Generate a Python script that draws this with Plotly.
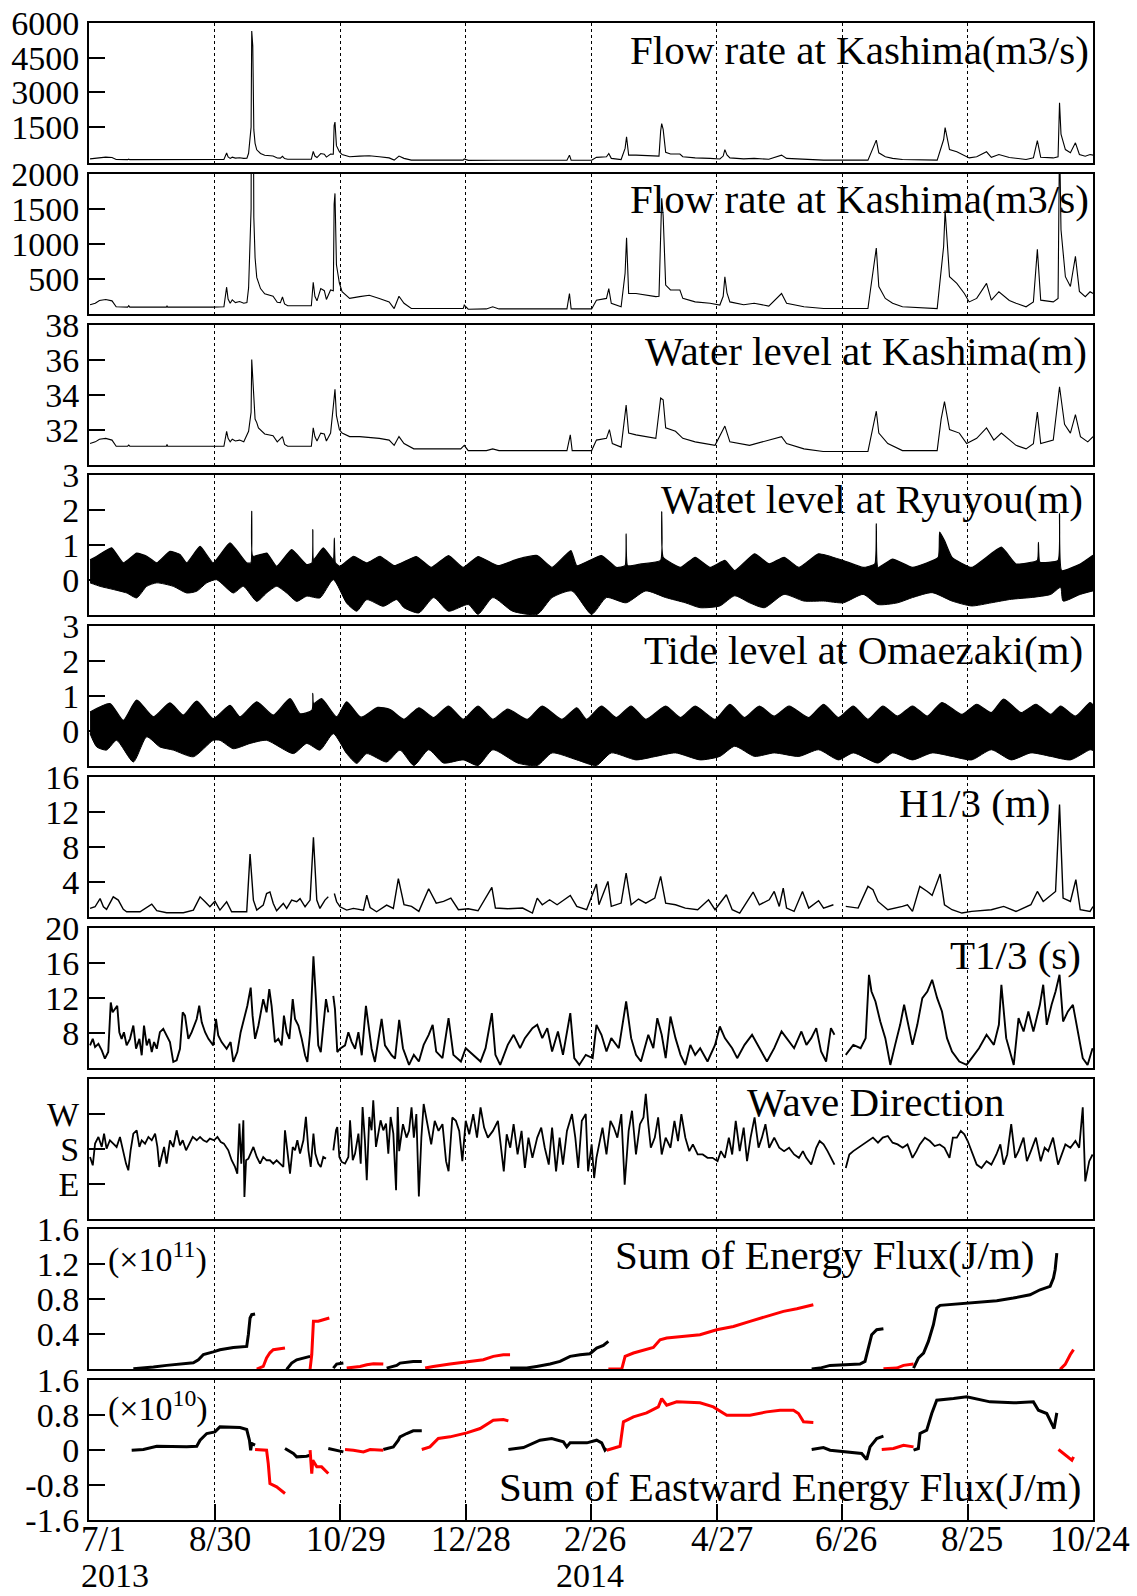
import plotly.graph_objects as go
import pandas as pd

START = pd.Timestamp("2013-07-01")
END = pd.Timestamp("2014-10-24")

# ---- x ticks (days after 2013-07-01) ----
TICK_DAYS = [0, 60, 120, 180, 240, 300, 360, 420, 480]
TICK_TEXT = ["7/1", "8/30", "10/29", "12/28", "2/26", "4/27", "6/26", "8/25", "10/24"]
YEAR_LABELS = [(0, "2013"), (240, "2014")]

# ---- data: (day after 2013-07-01, value) ----
FLOW = [(0.5,130),(3,150),(5,190),(8,205),(11,185),(13,100),(18.5,95),(19,115),(19.5,95),(37,95),
(37.3,115),(37.6,95),(59,95),(64.5,100),(65.8,380),(66.5,210),(67.5,150),(68.5,200),(70,160),(72,175),
(74,150),(75.5,160),(76.3,370),(77.5,1500),(77.8,5650),(78.3,5000),(78.8,1380),(79.4,800),(80.2,520),(82,360),
(84,285),(86,265),(88,250),(90,165),(91.5,160),(92.5,240),(93.5,140),(95,115),(106.3,115),(107.2,450),
(108,250),(109,185),(110.8,360),(112.5,330),(113.5,205),(115.5,340),(116.8,330),(117.2,1570),(117.6,1720),(118.3,700),
(119.7,440),(121,315),(124.6,220),(129.4,245),(134,265),(138.8,220),(143.5,170),(145.9,75),(148.2,250),(150.6,150),
(154.1,75),(178.9,75),(179.4,125),(181.3,65),(190,70),(193,100),(196,70),(228.5,70),(229.7,290),(230.5,70),
(240.3,70),(242.6,195),(247.4,220),(248.5,360),(249.7,150),(254.4,100),(256.3,580),(257,1085),(258,290),(261.5,290),
(266.2,265),(271,245),(272.5,250),(273.3,1325),(273.8,1650),(274.5,1400),(275.7,410),(278,340),(282.5,340),(283.9,220),
(289.8,170),(296.9,150),(301.6,125),(303.2,250),(304,530),(305,300),(306.4,170),(313,130),(318,150),(325,110),
(331.1,290),(333.5,150),(341.8,100),(351.2,75),(372.4,75),(373.6,340),(376.4,940),(377.6,390),(380.7,220),(384.2,150),
(388.9,100),(405.5,75),(406.9,530),(408.6,965),(409.3,1480),(410.2,1100),(411.4,530),(414.9,435),(418.5,290),(420.8,170),
(424.4,220),(429.1,435),(431.4,195),(435,315),(440,190),(443.2,150),(448,100),(451.5,170),(453.4,920),(455,195),
(461,170),(463.3,220),(464,2550),(464.7,1200),(466.8,530),(469.2,390),(471.6,820),(473.5,320),(476.3,245),(478.6,315),
(480,290)]

WATER_LEVEL = [(0.5,31.2),(3,31.3),(5,31.45),(8,31.5),(11,31.4),(13,31.05),(18.5,31.05),(19,31.12),(19.5,31.05),
(37,31.05),(37.3,31.15),(37.6,31.05),(64.5,31.05),(65.8,31.9),(66.5,31.5),(67.5,31.3),(68.5,31.45),(70,31.35),
(72,31.4),(74,31.3),(76.3,31.9),(77.5,33.0),(77.8,36.0),(78.3,35.0),(78.8,33.4),(79.4,32.6),(80.2,32.4),(81,32.1),
(84,31.75),(86,31.7),(88,31.65),(90,31.3),(92.5,31.6),(93.5,31.15),(95,31.05),(106.3,31.05),(107.2,32.1),(108,31.6),
(109,31.35),(110.8,31.8),(112.5,31.75),(113.5,31.35),(115.5,31.8),(117.2,33.8),(117.6,34.3),(118.3,32.8),(119.7,32.0),
(121,31.8),(124.6,31.6),(129.4,31.6),(134,31.55),(138.8,31.5),(143.5,31.4),(145.9,31.1),(148.2,31.6),(150.6,31.2),
(155.3,30.9),(177.7,30.9),(179.4,31.1),(181.3,30.8),(190,30.8),(193,30.9),(196,30.8),(228.5,30.8),(230.1,31.7),
(231,30.8),(240.3,30.8),(242.6,31.4),(247.4,31.5),(248.8,32.0),(250.2,31.2),(254.4,31.0),(256.8,33.4),(258,31.8),
(261.5,31.7),(266.2,31.6),(271,31.5),(273.3,33.8),(274.5,33.7),(275.7,32.1),(280.4,31.9),(283.9,31.5),(289.8,31.3),
(299.3,31.1),(304,32.2),(306.4,31.3),(315.8,31.1),(331.1,31.6),(333.5,31.2),(341.8,30.9),(351,30.75),(372.4,30.75),
(373.6,31.5),(376.4,33.05),(377.6,31.8),(381.9,31.2),(388.9,30.8),(405.5,30.8),(407.4,32.6),(409,33.6),(411.4,32.0),
(416.1,31.8),(419.6,31.2),(424.4,31.5),(429.1,32.1),(432.6,31.4),(436.2,31.8),(443.2,31.1),(448,30.9),(451.5,31.2),
(453.4,33.0),(455,31.2),(461,31.4),(464,34.45),(466.4,32.3),(469.2,31.8),(471.6,32.85),(474,31.6),(477.5,31.3),(480,31.6)]

RYUYOU_UPPER = [(0.5,0.59),(3.7,0.69),(10.8,0.93),(16.4,0.50),(22.8,0.78),(27.6,0.69),(32.4,0.50),(38.7,0.83),
(43.5,0.74),(46.7,0.50),(53.1,0.97),(59.4,0.50),(67.4,1.07),(75.4,0.50),(77.4,0.50),(77.8,1.97),(78.3,0.69),(85,0.78),
(89.7,0.40),(96.9,0.88),(104.1,0.45),(106.6,0.50),(107,1.45),(107.4,0.59),(112,0.93),(116.8,0.59),(117.3,1.21),
(117.8,0.50),(120,0.40),(126.4,0.69),(132.8,0.50),(139.1,0.69),(145.9,0.42),(156.5,0.68),(163.6,0.37),(171.9,0.71),
(178.9,0.37),(186,0.68),(195.5,0.42),(204.9,0.61),(214.3,0.71),(221.4,0.37),(230.4,0.85),(233.2,0.42),(245,0.71),
(252.1,0.37),(256.3,0.42),(256.8,1.33),(257.5,0.42),(263.9,0.47),(273.3,0.57),(273.8,1.96),(274.5,0.66),(282.8,0.37),
(289.8,0.66),(296.9,0.37),(304,0.57),(308.7,0.28),(318.2,0.76),(325.2,0.47),(332.3,0.66),(339.4,0.37),(348.8,0.76),
(360.6,0.57),(370.1,0.37),(375.7,0.47),(376.4,1.62),(377.2,0.37),(384.2,0.61),(393.7,0.37),(406,0.66),(406.7,1.38),
(409,1.14),(412.6,0.66),(422,0.37),(436.2,0.95),(443.2,0.47),(453.4,0.57),(453.9,1.09),(454.6,0.52),(463.3,0.57),
(464,1.91),(465,0.28),(473.9,0.47),(480,0.72)]

RYUYOU_LOWER = [(0.5,-0.07),(5.3,-0.17),(11.6,-0.26),(18,-0.36),(22.8,-0.50),(27.6,-0.17),(32.4,-0.07),(40.3,-0.17),
(46.7,-0.36),(51.5,-0.31),(56.3,-0.07),(61,0.02),(69,-0.36),(73.8,-0.17),(80.2,-0.60),(84.9,-0.36),(89.7,-0.17),
(94.5,-0.36),(99.3,-0.60),(104.1,-0.45),(110.4,-0.50),(116.8,0.02),(123.2,-0.65),(128,-0.88),(132.8,-0.55),(140.7,-0.74),
(147.1,-0.55),(150.6,-0.78),(157.7,-0.93),(164.8,-0.49),(171.9,-0.88),(181.3,-0.69),(186,-0.97),(193.1,-0.49),
(202.5,-0.88),(214.3,-0.97),(221.4,-0.49),(230.9,-0.30),(240.3,-0.97),(247.4,-0.49),(256.8,-0.64),(266.2,-0.30),
(275.7,-0.49),(285.1,-0.64),(292.2,-0.78),(301.6,-0.73),(308.7,-0.44),(315.8,-0.64),(322.9,-0.78),(332.3,-0.40),
(341.8,-0.59),(351.2,-0.59),(360.6,-0.64),(370.1,-0.40),(377.2,-0.69),(386.6,-0.64),(393.7,-0.49),(403.1,-0.35),
(412.6,-0.59),(422,-0.73),(431.4,-0.64),(440.9,-0.54),(450.3,-0.49),(459.8,-0.40),(464.5,-0.20),(465.7,-0.59),
(473.9,-0.40),(480,-0.30)]

TIDE_UPPER = [(0.5,0.55),(10,0.79),(16.4,0.31),(22.8,0.89),(30.8,0.41),(38.7,0.81),(45.1,0.46),(51.5,0.86),(59.4,0.36),
(67.4,0.74),(72.2,0.41),(80.2,0.84),(88.1,0.46),(96.1,0.93),(100.9,0.50),(106.6,0.60),(107,1.08),(107.4,0.79),
(111.2,0.93),(118.4,0.41),(123.2,0.84),(130,0.40),(138,0.68),(144,0.62),(150.6,0.34),(157.7,0.67),(164.8,0.39),
(171.9,0.72),(178.9,0.34),(186,0.72),(193.1,0.34),(200.2,0.63),(209.6,0.34),(216.7,0.72),(226.1,0.34),(233.2,0.67),
(237.9,0.34),(245,0.72),(252.1,0.39),(259.2,0.72),(266.2,0.34),(275.7,0.72),(282.8,0.39),(289.8,0.72),(299.3,0.34),
(306.4,0.77),(313.4,0.39),(320.5,0.72),(327.6,0.43),(334.7,0.72),(344.1,0.39),(351.2,0.77),(358.3,0.39),(365.4,0.72),
(372.4,0.34),(379.5,0.72),(386.6,0.43),(393.7,0.72),(400.8,0.43),(407.8,0.82),(417.3,0.48),(424.4,0.77),(431.4,0.53),
(437.3,0.92),(445.6,0.53),(452.7,0.77),(459.8,0.48),(464.5,0.72),(471.6,0.43),(478.6,0.82),(480,0.75)]

TIDE_LOWER = [(0.5,-0.07),(3.7,-0.45),(8.4,-0.54),(13.2,-0.26),(21.2,-0.88),(27.6,-0.16),(33.9,-0.45),(40.3,-0.54),
(49.9,-0.73),(59.4,-0.26),(62.6,-0.26),(69,-0.50),(77,-0.35),(84.9,-0.26),(97.7,-0.64),(104.1,-0.35),(110.4,-0.54),
(116.8,-0.07),(123.2,-0.64),(128,-0.92),(132.8,-0.64),(142.3,-0.88),(148.7,-0.54),(155.3,-0.98),(162.4,-0.53),
(169.5,-0.91),(178.9,-0.82),(186,-0.98),(193.1,-0.53),(204.9,-0.91),(214.3,-0.98),(221.4,-0.62),(233.2,-0.82),
(242.6,-0.98),(249.7,-0.62),(261.5,-0.82),(271,-0.72),(280.4,-0.62),(292.2,-0.82),(301.6,-0.72),(308.7,-0.43),
(318.2,-0.72),(327.6,-0.62),(339.4,-0.72),(348.8,-0.53),(358.3,-0.82),(365.4,-0.62),(377.2,-0.91),(384.2,-0.62),
(393.7,-0.82),(403.1,-0.62),(412.6,-0.72),(422,-0.82),(431.4,-0.53),(440.9,-0.82),(450.3,-0.62),(459.8,-0.72),
(469.2,-0.82),(478.6,-0.53),(480,-0.55)]

H13 = [(0.5,0.98),(2.9,1.17),(5.3,2.1),(6.9,1.17),(8.4,0.87),(11.6,2.3),(14,1.93),(16.4,0.87),(18,0.6),(24.4,0.6),
(30,1.47),(32.4,0.72),(37.1,0.49),(45.1,0.49),(49.9,0.79),(53.1,2.3),(55.5,1.74),(57.8,1.17),(60.2,1.81),(62.6,0.79),
(65.8,1.74),(68.2,0.6),(75.4,0.6),(77,7.2),(78.6,1.93),(80.2,0.79),(83.3,1.36),(84.9,2.68),(86.5,2.87),(88.1,1.55),
(89.7,0.72),(92.9,1.55),(94.5,0.98),(96.9,1.93),(99.3,1.74),(100.9,2.1),(103.3,1.17),(105.7,1.93),(107.3,9.1),
(108.9,1.93),(110.4,0.98),(112.8,1.93),(114.4,2.3),(115.5,None),(117.3,2.68),(118.4,1.74),(120,1.17),(123.2,0.79),
(126.4,0.98),(131.2,0.79),(132.8,2.49),(134.4,1.09),(137.5,0.6),(140.7,1.17),(142.3,1.36),(145.5,0.98),(147.9,4.38),
(150.6,1.4),(154.2,1.21),(157.7,0.64),(162.4,3.23),(166,1.59),(169.5,1.78),(173,2.16),(176.6,0.83),(181.3,0.94),
(186,0.71),(192.6,3.38),(194.3,1.02),(200.2,0.94),(207.3,1.02),(212,0.45),(214.3,2.16),(216.7,1.4),(220.2,1.97),
(223.8,1.4),(230.1,2.47),(233.2,1.21),(237.9,0.83),(242.6,3.76),(243.8,1.4),(248.1,4.07),(249.7,1.21),(254.4,1.59),
(256.8,5.02),(259.2,1.4),(262.7,2.05),(266.2,1.59),(270.5,2.16),(273.3,4.64),(275.7,1.59),(280.4,1.4),(285.1,1.02),
(291,0.83),(296.2,1.97),(299.3,0.83),(304.7,2.54),(307.5,0.83),(311.1,0.45),(317.5,2.85),(320.5,1.4),(325.2,1.97),
(327.6,2.92),(330,1.21),(331.9,3.3),(333.5,1.02),(337.1,0.64),(341.1,2.92),(344.1,1.02),(348.8,1.86),(351.2,1.02),
(355.9,1.4),(358.5,None),(361.8,1.21),(367.7,1.02),(372.4,3.5),(374.8,3.12),(377.2,1.78),(381.9,0.83),(388.9,1.21),
(391.3,1.4),(393.7,0.64),(397.2,3.5),(400.8,2.92),(403.1,2.47),(406.9,4.91),(409,1.4),(412.6,0.83),(417.3,0.45),
(422,0.64),(431.4,0.83),(437.3,1.21),(443.2,0.64),(450.3,1.4),(453.4,2.92),(456.2,1.78),(462.1,2.92),(464,12.84),
(465.7,2.16),(469.2,1.78),(471.8,4.26),(473.9,0.83),(478.6,0.64),(480,1.2)]

T13 = [(0.5,6.56),(1.8,7.31),(2.9,6.37),(4.5,6.75),(6.1,5.99),(7.6,5.05),(9.2,5.8),(10.4,11.47),(11.3,10.34),(12.4,10.71),
(13.5,11.09),(14.5,8.07),(15.6,7.31),(16.7,8.07),(18,6.56),(19.6,7.31),(21.2,8.83),(22.5,6.18),(24.1,7.31),(25.2,5.43),
(26.3,8.83),(27.6,6.56),(28.8,7.31),(30,5.8),(31.1,6.94),(32.4,6.18),(33.9,8.07),(35.5,8.45),(37.1,7.69),(38.7,6.94),
(40.3,4.67),(41.9,4.86),(43.5,6.18),(44.8,10.34),(45.9,9.96),(47.5,7.31),(49.1,8.07),(51.5,9.58),(52.7,11.09),(53.9,9.2),
(55.5,8.07),(57.1,7.31),(59.4,6.56),(60.7,9.58),(61.8,7.69),(63.4,6.94),(65.8,6.18),(67.7,6.94),(69,4.67),(70.9,5.8),
(72.5,8.07),(74.1,9.58),(75.7,11.09),(77.3,13.17),(78.2,9.96),(79.4,7.31),(81,8.83),(83.3,11.85),(84.9,10.34),(86.2,12.98),
(87.3,11.09),(88.9,6.94),(90.5,7.31),(92.1,6.56),(93.2,9.96),(94.5,8.07),(95.8,7.31),(97.4,11.85),(98.5,9.58),(100.1,8.83),
(101.7,7.31),(103.3,5.43),(104.4,4.67),(105.7,8.07),(107.3,16.75),(108.5,11.85),(109.6,6.56),(110.8,5.8),(112,8.83),
(113.3,11.85),(114.4,10.34),(115.5,None),(116.8,12.22),(117.6,10.71),(118.7,5.8),(120,6.18),(122.4,6.56),(124,8.07),
(125.6,6.94),(127.2,6.18),(128.8,8.07),(130.4,5.43),(132.4,11.09),(133.5,9.2),(135.1,6.18),(136.7,4.67),(138.3,7.31),
(139.9,9.58),(141.5,6.56),(143.1,5.99),(144.7,5.43),(146.3,5.05),(148.3,9.48),(150.1,6.24),(153,4.33),(155.3,5.48),
(157.7,4.72),(160,6.62),(162.4,7.77),(164.3,8.91),(166,5.86),(169,5.1),(171.9,9.67),(174.2,5.48),(177.8,4.72),(180.1,6.24),
(183.7,5.48),(187.2,4.72),(189.6,6.24),(192.6,10.25),(194.3,5.48),(196.6,4.33),(200.2,6.62),(203,7.77),(206.1,6.24),
(208.4,7.39),(212,8.53),(214.3,8.91),(216.7,7.39),(219.1,8.53),(221.4,5.86),(224.2,8.15),(226.6,5.48),(230.1,10.25),
(232,5.1),(234.4,4.33),(237.5,5.48),(240.8,5.1),(242.6,8.91),(245,7.77),(247.4,5.86),(249.7,7.39),(253.3,6.24),
(256.8,11.58),(259.2,7.39),(261.5,5.48),(263.9,4.72),(267.4,7.77),(269.8,6.24),(271.7,9.67),(273.8,7.77),(275.7,5.1),
(278,9.86),(280.4,7.39),(282.8,5.48),(285.1,4.33),(287.5,6.62),(289.8,5.48),(292.2,6.24),(295.7,4.72),(299.3,6.62),
(301.6,8.72),(304,7.39),(307.5,6.24),(309.9,5.1),(313.4,6.62),(317,7.77),(320.5,6.24),(324.1,4.72),(327.6,6.24),
(331.1,8.15),(333.5,7.39),(337.1,6.24),(340.6,8.15),(343,6.62),(345.3,7.39),(347.7,8.53),(350,5.86),(352.4,4.72),
(354.7,8.53),(356.4,7.77),(359,None),(361.8,5.48),(365.4,6.62),(368.9,6.24),(371.3,7.39),(372.9,14.63),(374.1,12.72),
(376,11.58),(378.3,9.29),(380.7,7.39),(383.1,4.33),(385.4,6.62),(387.8,8.91),(389.7,11.2),(391.3,9.29),(393.7,6.62),
(396,8.91),(398.4,11.96),(400.8,12.72),(403.1,14.06),(405.5,11.96),(407.8,10.44),(410.2,7.39),(412.6,5.86),(416.1,4.72),
(419.6,4.33),(422,5.1),(425.5,6.24),(429.1,7.77),(432.6,6.62),(435,8.91),(436.2,13.49),(438.5,7.39),(442.1,4.33),
(444.4,9.67),(446.8,8.15),(449.1,10.44),(451.5,8.15),(454.6,11.2),(456.2,13.49),(457.9,8.91),(460.2,11.2),(462.1,12.72),
(464,14.63),(465.7,9.29),(468,10.44),(470.4,11.2),(472.7,8.15),(475.1,5.1),(477.4,4.33),(479.8,6.24)]

WAVE_DIR = [(0.5,158.5),(1.8,137),(2.9,192.8),(4.5,210),(6.1,184.2),(7.2,218.5),(8.4,180),(10,201.4),(11.6,192.8),
(13.2,184.2),(14.8,210),(16.4,167.1),(17.7,141.4),(18.8,124.2),(19.9,175.6),(21.2,218.5),(22.8,227),(24.1,184.2),
(25.2,201.4),(26.8,192.8),(28.4,210),(30,201.4),(31.6,218.5),(32.7,184.2),(33.6,132.8),(34.7,158.5),(35.9,184.2),
(37.1,141.4),(38.7,201.4),(40.3,184.2),(41.9,227),(43.5,188.5),(44.8,201.4),(46.4,175.6),(47.9,192.8),(49.6,210),
(51.5,201.4),(53.1,210),(54.7,201.4),(56.3,197.1),(57.8,205.7),(59.8,201.4),(61.4,210),(63,197.1),(64.5,192.8),
(66.6,175.6),(68.2,150),(69.8,132.8),(70.9,115.7),(71.9,244.2),(72.8,141.4),(73.8,252.8),(74.3,55.7),(75.1,150),
(76.2,154.2),(77.3,167.1),(78.6,184.2),(80.2,158.5),(81.8,141.4),(83.3,158.5),(84.9,150),(86.5,150),(88.1,141.4),
(89.7,150),(91.3,141.4),(92.9,132.8),(93.7,227),(94.8,167.1),(96.1,115.7),(97.4,184.2),(98.5,175.6),(99.6,201.4),
(100.9,167.1),(102.5,201.4),(103.7,261.4),(104.9,175.6),(106,132.8),(107.3,218.5),(108.2,167.1),(109.6,141.4),
(110.8,132.8),(112,158.5),(113.3,154.2),(115.5,None),(116.8,175.6),(118.1,227),(118.7,235.6),(119.7,158.5),(120.8,145.7),
(122.4,141.4),(124,158.5),(124.8,252.8),(126.1,150),(127.2,167.1),(128.8,218.5),(129.9,141.4),(130.8,287),(131.9,201.4),
(132.8,98.5),(134,261.4),(135.1,227),(135.9,304.2),(137.2,184.2),(138.3,218.5),(139.4,252.8),(140.7,227),(142,244.2),
(143.1,167.1),(144.2,261.4),(145.5,218.5),(146.8,72.8),(147.6,287),(148.3,173.5),(150.1,242.8),(151.8,208.2),
(153,225.5),(154.2,286.1),(155.3,208.2),(156.5,268.8),(157.7,56.7),(158.9,208.2),(160,294.7),(161.7,242.8),(163.6,190.8),
(165.3,251.4),(167.1,225.5),(169,242.8),(170.7,147.6),(171.9,121.6),(173.7,260.1),(175.4,251.4),(177,225.5),(178.5,147.6),
(180.1,251.4),(181.8,216.8),(183.7,268.8),(185.5,208.2),(187.2,286.1),(188.9,234.1),(190.7,208.2),(193.1,225.5),
(195.5,251.4),(198.3,121.6),(199.7,216.8),(201.4,182.2),(203,242.8),(204.9,164.9),(206.8,225.5),(208.4,130.2),
(210.1,208.2),(212,156.2),(214.3,208.2),(216.2,234.1),(217.9,182.2),(219.8,138.9),(221.4,234.1),(223.3,121.6),
(225,208.2),(226.6,138.9),(228.5,225.5),(230.9,268.8),(232.5,208.2),(233.9,130.2),(235.6,251.4),(237.5,268.8),
(238.6,121.6),(240.3,190.8),(241.5,104.3),(242.6,156.2),(243.8,190.8),(245.5,234.1),(247.4,164.9),(249.3,251.4),
(250.9,234.1),(252.6,208.2),(254.5,268.8),(256.1,87),(258,225.5),(259.6,277.4),(261.5,164.9),(263.4,242.8),(265.1,260.1),
(266.2,320.7),(267.4,242.8),(268.6,182.2),(270.5,208.2),(272.1,260.1),(273.8,164.9),(275.7,208.2),(278,182.2),
(279.9,251.4),(281.6,199.5),(283.2,268.8),(285.1,208.2),(287,173.5),(288.7,190.8),(291,164.9),(293.4,164.9),(295.7,156.2),
(298.1,156.2),(300.5,147.6),(302.1,173.5),(304,156.2),(305.9,208.2),(307.5,164.9),(309.2,251.4),(311.1,173.5),
(313,234.1),(314.6,147.6),(316.3,208.2),(318.2,260.1),(320.1,182.2),(321.7,208.2),(323.4,242.8),(325.2,182.2),
(327.6,208.2),(330,182.2),(332.3,173.5),(334.7,182.2),(337.1,164.9),(339.4,156.2),(341.3,173.5),(342.9,156.2),
(345.3,138.9),(347.7,182.2),(349.3,199.5),(351.2,190.8),(353.1,173.5),(354.7,156.2),(356.4,138.9),(359,None),
(361.8,130.2),(363.5,164.9),(365.4,173.5),(367.7,182.2),(370.1,190.8),(372.4,199.5),(374.8,208.2),(377.2,195.2),
(379.5,208.2),(381.9,212.5),(384.2,195.2),(386.6,190.8),(389,182.2),(391.3,190.8),(393.7,156.2),(395.6,173.5),
(397.2,190.8),(399.6,208.2),(402,199.5),(404.3,186.5),(406.7,190.8),(409,182.2),(411.4,156.2),(413,208.2),(414.9,208.2),
(416.8,225.5),(418.5,216.8),(420.1,199.5),(422,173.5),(424.4,138.9),(426.7,130.2),(429.1,147.6),(431.4,138.9),
(433.8,164.9),(435.7,190.8),(437.3,138.9),(439,164.9),(440.9,242.8),(442.8,156.2),(444.4,173.5),(446.8,208.2),
(448.4,147.6),(450.3,173.5),(452.7,208.2),(455,147.6),(456.9,182.2),(458.6,173.5),(460.9,208.2),(463.3,138.9),
(465,164.9),(466.8,190.8),(469.2,182.2),(471.6,199.5),(473.4,182.2),(475.1,286.1),(476.3,95.6),(478.2,147.6),(479.8,164.9)]

# Sum of energy flux (x1e11 J/m); None separates record periods
EF_BLACK = [(21.2,0.008),(26,0.015),(30.8,0.027),(37.1,0.046),(43.5,0.061),(49.9,0.076),(52.3,0.11),(54.7,0.17),
(59.4,0.2),(62.6,0.225),(69,0.251),(75.4,0.263),(76.2,0.4),(77,0.587),(77.8,0.625),(79.4,0.632),(79.4,None),
(94.5,0.0),(96.9,0.072),(99.3,0.11),(102.5,0.13),(105.7,0.149),(105.7,None),
(116.8,0.015),(118.4,0.061),(121.6,0.072),(121.6,None),
(142.3,0.015),(147.1,0.046),(148.7,0.072),(155,0.091),(159.1,0.091),(159.1,None),
(201.3,0.015),(209.3,0.015),(214,0.034),(220.4,0.061),(225.2,0.091),(230,0.149),(234.8,0.168),(239.5,0.179),
(242.7,0.244),(245.9,0.274),(248.3,0.32),(248.3,None),
(345.5,0.004),(349.5,0.015),(354.3,0.046),(362.3,0.053),(368.6,0.061),(371,0.091),(372.6,0.244),(374.2,0.396),
(376.6,0.453),(379.8,0.465),(379.8,None),
(394.2,0.015),(396.5,0.13),(399,0.187),(401.3,0.32),(403.7,0.511),(405.3,0.701),(406.9,0.732),(414.9,0.747),
(421.2,0.762),(434,0.785),(441.9,0.815),(449.9,0.853),(454.7,0.91),(459.5,0.949),(461.1,1.044),(461.9,1.139),(462.7,1.33)]

EF_RED = [(80.2,0.004),(83.3,0.034),(84.9,0.13),(86.5,0.19),(88.1,0.225),(93.7,0.244),(93.7,None),
(105.7,0.004),(106.5,0.17),(107.3,0.55),(109.6,0.55),(112,0.568),(114.9,0.587),(114.9,None),
(123.2,0.015),(129.6,0.034),(132.8,0.053),(136,0.065),(140.7,0.061),(140.7,None),
(160.7,0.015),(164.6,0.034),(172.6,0.061),(180.6,0.084),(188.5,0.11),(193.3,0.149),(198.1,0.168),(201.3,0.168),(201.3,None),
(248.3,0.004),(254.7,0.004),(256.3,0.149),(260.3,0.187),(269.8,0.251),(273,0.339),(276.2,0.358),(284.2,0.377),
(292.1,0.396),(300.1,0.453),(308.1,0.491),(316,0.549),(324,0.606),(332,0.663),(338.4,0.693),(346.3,0.739),(346.3,None),
(379.8,0.008),(386.2,0.015),(389.4,0.046),(394.2,0.061),(394.2,None),
(464.3,0.0),(466.7,0.057),(469.1,0.168),(470.7,0.225)]

# Sum of eastward energy flux (x1e10 J/m)
EEF_BLACK = [(20.4,0.0),(26,0.015),(32.4,0.091),(40.3,0.076),(46.7,0.076),(51.5,0.091),(53.1,0.229),(56.3,0.381),
(60.2,0.419),(62.6,0.533),(72.2,0.518),(75.4,0.472),(76.7,0.229),(77.3,0.0),(77.8,0.152),(79.4,0.114),(79.4,None),
(93.7,0.038),(97.7,-0.076),(99.3,-0.152),(104,-0.137),(105.7,-0.114),(105.7,None),
(114.4,0.038),(118.4,0.0),(121.6,-0.038),(121.6,None),
(140.7,0.015),(145.5,0.076),(147.9,0.229),(148.7,0.305),(151.9,0.381),(155,0.442),(159.1,0.442),(159.1,None),
(200.5,0.015),(207.7,0.061),(215.6,0.229),(221.2,0.267),(226.8,0.19),(228.4,0.076),(230,0.168),(238,0.168),
(242.7,0.229),(245.1,0.168),(246.7,0.0),(247.5,0.038),(247.5,None),
(345.5,0.015),(351.1,0.061),(354.3,0.0),(362.3,-0.038),(369.4,-0.076),(371.8,-0.213),(373.4,0.076),(376.6,0.267),
(379.8,0.32),(379.8,None),
(394.2,0.0),(396.5,0.038),(397.3,0.381),(400.5,0.457),(402.9,0.838),(405.3,1.143),(413.3,1.18),(419.6,1.219),
(430.8,1.105),(442,1.082),(451.5,1.105),(453.9,0.914),(457.9,0.838),(460.3,0.61),(461.4,0.495),(462.7,0.853)]

EEF_RED = [(79.4,0.015),(84.9,0.0),(85.7,-0.305),(86.5,-0.762),(89.7,-0.838),(93.7,-0.99),(93.7,None),
(105.7,0.0),(106.5,-0.533),(107,-0.229),(108.9,-0.381),(111.2,-0.381),(114.4,-0.533),(114.4,None),
(122.4,0.015),(126.4,0.0),(131.2,-0.038),(134.4,0.015),(140.7,0.0),(140.7,None),
(159.1,0.015),(163,0.076),(167,0.267),(172.6,0.305),(180.6,0.396),(187,0.495),(193.3,0.686),(198.1,0.701),(200.5,0.670),(200.5,None),
(247.5,0.0),(253.9,0.091),(255.5,0.648),(260.3,0.762),(266.6,0.853),(272.2,0.99),(273.8,1.18),(276.2,1.029),
(281,1.105),(292.1,1.082),(298.5,0.99),(304.9,0.8),(316,0.8),(324,0.876),(330.4,0.914),(336.8,0.914),(339.2,0.838),
(341.6,0.648),(346.3,0.632),(346.3,None),
(379,0.015),(384.6,0.038),(389.4,0.114),(394.2,0.076),(394.2,None),
(463.5,0.015),(466.7,-0.114),(469.9,-0.229),(470.7,-0.152)]

# ---- panel axis definitions ----
PANEL_RANGES = [[-50, 6000], [0, 2000], [30, 38], [-1, 3], [-1, 3], [0, 16], [4, 20], [0, 360], [0, 1.6], [-1.6, 1.6]]
PANEL_TICKS = [[1500, 3000, 4500, 6000], [500, 1000, 1500, 2000], [32, 34, 36, 38], [0, 1, 2, 3], [0, 1, 2, 3],
               [4, 8, 12, 16], [8, 12, 16, 20], [90, 180, 270], [0.4, 0.8, 1.2, 1.6], [-1.6, -0.8, 0, 0.8, 1.6]]
PANEL_TICKTEXT = [["1500", "3000", "4500", "6000"], ["500", "1000", "1500", "2000"], ["32", "34", "36", "38"],
                  ["0", "1", "2", "3"], ["0", "1", "2", "3"], ["4", "8", "12", "16"], ["8", "12", "16", "20"],
                  ["E", "S", "W"], ["0.4", "0.8", "1.2", "1.6"], ["-1.6", "-0.8", "0", "0.8", "1.6"]]
PANEL_TITLES = ["Flow rate at Kashima(m3/s)", "Flow rate at Kashima(m3/s)", "Water level at Kashima(m)",
                "Watet level at Ryuyou(m)", "Tide level at Omaezaki(m)", "H1/3 (m)", "T1/3 (s)", "Wave Direction",
                "Sum of Energy Flux(J/m)", "Sum of Eastward Energy Flux(J/m)"]

FONT = "Liberation Serif, Times New Roman, serif"
W, H = 1137, 1596
PLOT_L, PLOT_R = 89, 1093
PANEL_TOPS = [23 + i * 150.8 for i in range(10)]
PANEL_H = 140
TITLE_POS = [(1091, 50), (1091, 199), (1089, 351), (1085, 499), (1085, 650), (1052, 803), (1083, 955),
             (1006, 1102), (1037, 1255), (1083, 1487)]
XLABEL_SHIFT = [14, 5, 6, 5, 4, 5, 4, 4, -3]


def xs(pairs):
    return [START + pd.Timedelta(days=d) for d, v in pairs]


def ys(pairs):
    return [v for d, v in pairs]


fig = go.Figure()


def add_line(pairs, panel, color="black", width=1.0, **kw):
    sfx = "" if panel == 1 else str(panel)
    fig.add_trace(go.Scatter(x=xs(pairs), y=ys(pairs), mode="lines", xaxis="x" + sfx, yaxis="y" + sfx,
                             line=dict(color=color, width=width, **kw.pop("line_extra", {})),
                             connectgaps=False, hoverinfo="skip", **kw))


add_line(FLOW, 1, width=1.1)
add_line(FLOW, 2, width=1.1)
add_line(WATER_LEVEL, 3, width=1.1)
add_line(RYUYOU_LOWER, 4, width=1, line_extra=dict(shape="spline", smoothing=0.6))
add_line(RYUYOU_UPPER, 4, width=1.2, fill="tonexty", fillcolor="black", line_extra=dict(shape="spline", smoothing=0.4))
add_line(TIDE_LOWER, 5, width=1, line_extra=dict(shape="spline", smoothing=0.6))
add_line(TIDE_UPPER, 5, width=1.2, fill="tonexty", fillcolor="black", line_extra=dict(shape="spline", smoothing=0.6))
add_line(H13, 6, width=1.4)
add_line(T13, 7, width=1.9)
add_line(WAVE_DIR, 8, width=1.8)
add_line(EF_BLACK, 9, width=3)
add_line(EF_RED, 9, color="red", width=3)
add_line(EEF_BLACK, 10, width=3)
add_line(EEF_RED, 10, color="red", width=3)

tick_dates = [START + pd.Timedelta(days=d) for d in TICK_DAYS]
layout = dict(width=W, height=H, template="none", showlegend=False,
              paper_bgcolor="white", plot_bgcolor="white",
              margin=dict(l=PLOT_L, r=W - PLOT_R, t=0, b=0),
              font=dict(family=FONT, color="black"))

for i in range(10):
    n = i + 1
    sfx = "" if n == 1 else str(n)
    top = PANEL_TOPS[i]
    bot = top + PANEL_H
    layout["xaxis" + sfx] = dict(
        domain=[0, 1], anchor="y" + sfx, range=[START, END], type="date",
        tickvals=tick_dates, ticktext=TICK_TEXT, showticklabels=False,
        ticks="inside" if n == 10 else "", ticklen=16, tickwidth=2, tickcolor="black",
        showgrid=True, gridcolor="black", griddash="dot", gridwidth=1,
        showline=True, mirror=True, linecolor="black", linewidth=2,
        zeroline=False, automargin=False, fixedrange=True)
    layout["yaxis" + sfx] = dict(
        domain=[1 - bot / H, 1 - top / H], anchor="x" + sfx, range=PANEL_RANGES[i],
        tickvals=PANEL_TICKS[i], ticktext=PANEL_TICKTEXT[i],
        ticks="inside", ticklen=16, tickwidth=2, tickcolor="black",
        tickfont=dict(family=FONT, size=34, color="black"), ticklabelstandoff=1,
        showgrid=False, showline=True, mirror=True, linecolor="black", linewidth=2,
        zeroline=False, automargin=False, fixedrange=True)

annotations = []
for i, title in enumerate(PANEL_TITLES):
    px, py = TITLE_POS[i]
    annotations.append(dict(text=title, xref="paper", yref="paper",
                            x=(px - PLOT_L) / (PLOT_R - PLOT_L), y=1 - py / H,
                            xanchor="right", yanchor="middle", showarrow=False,
                            font=dict(family=FONT, size=41, color="black")))
for txt, py in [("(×10<sup>11</sup>)", 1257), ("(×10<sup>10</sup>)", 1406)]:
    annotations.append(dict(text=txt, xref="paper", yref="paper",
                            x=(106 - PLOT_L) / (PLOT_R - PLOT_L), y=1 - py / H,
                            xanchor="left", yanchor="middle", showarrow=False,
                            font=dict(family=FONT, size=34, color="black")))
# bottom-axis date labels, placed at the tick dates on the bottom x axis
for d, txt, sh in zip(TICK_DAYS, TICK_TEXT, XLABEL_SHIFT):
    annotations.append(dict(text=txt, xref="x10", yref="paper", x=START + pd.Timedelta(days=d),
                            y=1 - 1539 / H, xanchor="center", yanchor="middle", xshift=sh, showarrow=False,
                            font=dict(family=FONT, size=35, color="black")))
for d, txt in YEAR_LABELS:
    annotations.append(dict(text=txt, xref="x10", yref="paper", x=START + pd.Timedelta(days=d),
                            y=1 - 1575 / H, xanchor="center", yanchor="middle",
                            xshift=26 if d == 0 else -1, showarrow=False,
                            font=dict(family=FONT, size=34, color="black")))
layout["annotations"] = annotations

fig.update_layout(**layout)
fig.write_html("out.html")
